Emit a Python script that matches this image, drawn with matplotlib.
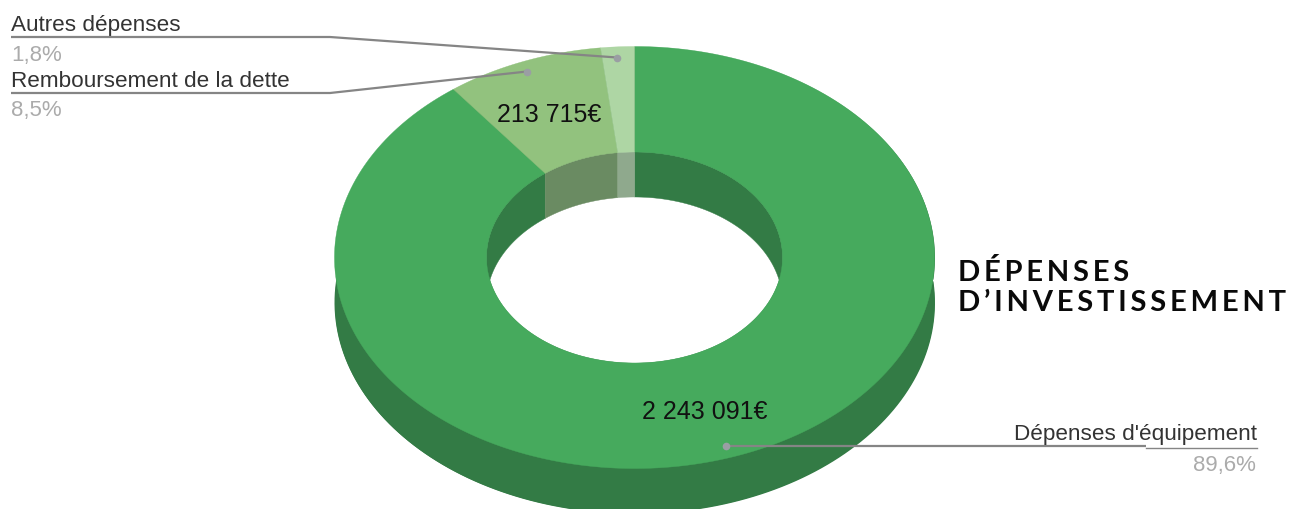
import numpy as np
import matplotlib
matplotlib.use("Agg")
import matplotlib.pyplot as plt

# Data
categories = ["Dépenses d'équipement", "Remboursement de la dette", "Autres dépenses"]
shares = [89.6, 8.5, 1.8]
share_labels = ["89,6%", "8,5%", "1,8%"]
amount_labels = ["2 243 091€", "213 715€"]
title_lines = ["DÉPENSES", "D’INVESTISSEMENT"]

top_colors = ["#46AA5D", "#92C27E", "#AED6A4"]
wall_colors = ["#337B45", "#6A8B62", "#8FA98D"]
side_color = "#337B45"
label_color = "#333333"
pct_color = "#ABABAB"
line_color = "#858585"

# Ring geometry in pixels
CX, CY, RX, RY = 634.5, 258.5, 300, 211
IRX, IRY, DEPTH = 148, 105.5, 45

fig = plt.figure(figsize=(13.04, 5.10), dpi=100, facecolor="white")
ax = fig.add_axes([0, 0, 1, 1])
ax.set_xlim(0, 1304)
ax.set_ylim(510, 0)
ax.axis("off")


def arc(a0, a1, rx, ry, dy=0, n=240):
    t = np.radians(np.linspace(a0, a1, n))
    return CX + rx * np.sin(t), CY + dy - ry * np.cos(t)


# Outer side
x0, y0 = arc(0, 360, RX, RY)
x1, y1 = arc(0, 360, RX, RY, DEPTH)
ax.fill(x1, y1, color=side_color, lw=0, zorder=1)
ax.fill_between(x0, y0, y1, color=side_color, lw=0, zorder=1)

# Hole
xh, yh = arc(0, 360, IRX, IRY)
ax.fill(xh, yh, color="white", lw=0, zorder=2)

# Slice limits, clockwise from the top
edges = np.concatenate([[0], np.cumsum(shares)]) / np.sum(shares) * 360

# Inner wall (back half only is visible)
for s, c in zip(range(len(shares)), wall_colors):
    lo, hi = edges[s], edges[s + 1]
    pieces = []
    if lo < 90:
        pieces.append((lo, min(hi, 90)))
    if hi > 270:
        pieces.append((max(lo, 270), hi))
    for p0, p1 in pieces:
        xa, ya = arc(p0, p1, IRX, IRY)
        xb, yb = arc(p1, p0, IRX, IRY, DEPTH)
        ax.fill(np.r_[xa, xb], np.r_[ya, yb], color=c, lw=0.3, ec=c, zorder=3)

# Top face
for s, c in enumerate(top_colors):
    xa, ya = arc(edges[s], edges[s + 1], RX, RY)
    xb, yb = arc(edges[s + 1], edges[s], IRX, IRY)
    ax.fill(np.r_[xa, xb], np.r_[ya, yb], color=c, lw=0.3, ec=c, zorder=4)

# Amounts on the ring
sans = ["Liberation Sans", "DejaVu Sans"]
ax.text(642, 419, amount_labels[0], fontsize=18, family=sans, color="#111111",
        ha="left", va="baseline", zorder=6)
ax.text(497, 122, amount_labels[1], fontsize=18, family=sans, color="#111111",
        ha="left", va="baseline", zorder=6)

# Leader lines
lines = [
    ([11, 330, 617], [38, 38, 58.5]),
    ([11, 330, 527], [94, 94, 72.5]),
    ([726, 1146], [447, 447]),
]
for lx, ly in lines:
    ax.plot(lx, ly, color=line_color, lw=1.6, zorder=5, solid_capstyle="butt")
    ax.plot(lx[-1] if lx[0] < 100 else lx[0], ly[-1], "o", color="#9A9EA3", ms=5.5,
            mew=0, zorder=5)
ax.plot([1146, 1257], [448.5, 448.5], color=line_color, lw=1.0, zorder=5)

# Labels
ax.text(11, 31, categories[2], fontsize=16.2, family=sans, color=label_color, va="baseline")
ax.text(11, 61, share_labels[2], fontsize=16, family=sans, color=pct_color, va="baseline")
ax.text(11, 87, categories[1], fontsize=16.2, family=sans, color=label_color, va="baseline")
ax.text(11, 116, share_labels[1], fontsize=16, family=sans, color=pct_color, va="baseline")
ax.text(1257, 440, categories[0], fontsize=16.2, family=sans, color=label_color,
        ha="right", va="baseline", zorder=6)
ax.text(1256, 471, share_labels[0], fontsize=16, family=sans, color=pct_color,
        ha="right", va="baseline")

# Title, widely tracked
for line, y in zip(title_lines, (281, 311)):
    ax.text(958, y, "\u200a\u200a".join(line), fontsize=21, weight="bold",
            family=["Lato", "DejaVu Sans"], color="#0A0A0A", va="baseline")

fig.savefig("out.png", dpi=100, facecolor="white")
